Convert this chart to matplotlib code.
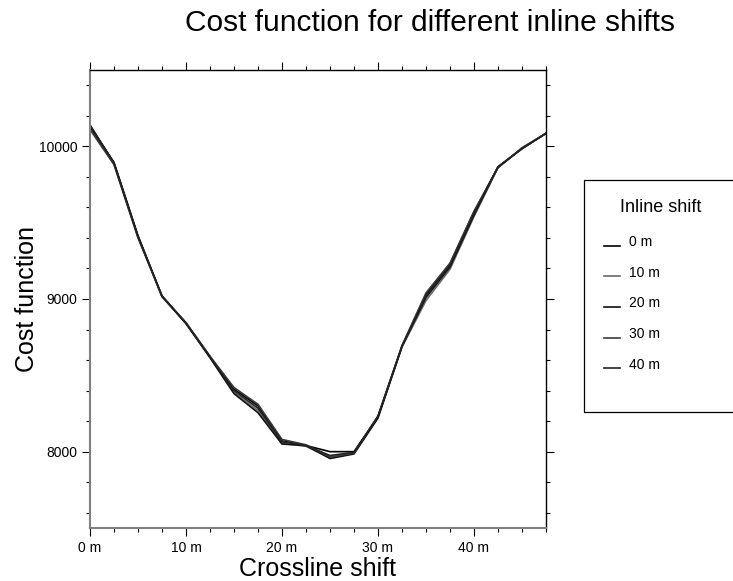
import numpy as np
import matplotlib.pyplot as plt
from matplotlib.patches import Rectangle
from matplotlib.legend_handler import HandlerLine2D

plt.rcParams['font.family'] = ['Liberation Sans', 'DejaVu Sans']

# Desplazamientos en crossline (m)
crossline = [0, 2.5, 5, 7.5, 10, 12.5, 15, 17.5, 20, 22.5,
             25, 27.5, 30, 32.5, 35, 37.5, 40, 42.5, 45, 47.5]

# Funcion de coste para cada desplazamiento inline
cost_0 = [10140, 9890, 9410, 9015, 8840, 8620, 8410, 8300, 8070, 8040,
          8000, 8000, 8230, 8690, 9030, 9230, 9570, 9865, 9985, 10085]
cost_10 = [10120, 9885, 9405, 9015, 8845, 8625, 8390, 8270, 8055, 8035,
           7960, 7990, 8225, 8685, 8990, 9195, 9540, 9860, 9990, 10085]
cost_20 = [10130, 9895, 9415, 9020, 8840, 8615, 8380, 8255, 8050, 8040,
           7955, 7985, 8220, 8690, 9010, 9210, 9550, 9865, 9985, 10085]
cost_30 = [10110, 9880, 9400, 9020, 8845, 8625, 8420, 8310, 8080, 8045,
           7965, 7990, 8235, 8695, 9040, 9235, 9575, 9860, 9990, 10085]
cost_40 = [10135, 9890, 9410, 9020, 8840, 8620, 8400, 8285, 8065, 8040,
           7975, 7995, 8230, 8690, 9020, 9220, 9560, 9865, 9985, 10085]

inline_labels = ['0 m', '10 m', '20 m', '30 m', '40 m']
xtick_values = [0, 10, 20, 30, 40]
xtick_labels = ['0 m', '10 m', '20 m', '30 m', '40 m']
ytick_values = [8000, 9000, 10000]

series = [cost_0, cost_10, cost_20, cost_30, cost_40]
colores = ['#000000', '#6a6a6a', '#111111', '#3a3a3a', '#222222']


class LineaAbajo(HandlerLine2D):
    """Dibuja la linea de la leyenda a la altura de la base del texto."""
    def create_artists(self, legend, orig_handle, xdescent, ydescent,
                       width, height, fontsize, trans):
        arts = super().create_artists(legend, orig_handle, xdescent, ydescent,
                                      width, height, fontsize, trans)
        for a in arts:
            yd = a.get_ydata()
            a.set_ydata([-ydescent + 0.05 * height] * len(yd))
        return arts


W, H = 733, 581
fig = plt.figure(figsize=(W / 100, H / 100), dpi=100)
ax = fig.add_axes([90 / W, 1 - 528 / H, (546 - 90) / W, (528 - 70) / H])

lineas = []
for datos, c, lab in zip(series, colores, inline_labels):
    l, = ax.plot(crossline, datos, color=c, lw=1.2, label=lab)
    lineas.append(l)

ax.set_xlim(0, 47.5)
ax.set_ylim(7500, 10500)
ax.set_xticks(xtick_values)
ax.set_xticklabels(xtick_labels)
ax.set_xticks(np.arange(0, 47.6, 2.5), minor=True)
ax.set_yticks(ytick_values)
ax.set_yticklabels([str(v) for v in ytick_values])
ax.set_yticks(np.arange(7600, 10500, 200), minor=True)

ax.tick_params(which='both', direction='out', top=True, right=True,
               labelsize=10, width=0.8, color='black')
ax.tick_params(which='major', length=6, pad=3)
ax.tick_params(which='minor', length=3)

for lado in ['left', 'bottom']:
    ax.spines[lado].set_color('#808080')
    ax.spines[lado].set_linewidth(1.5)
for lado in ['top', 'right']:
    ax.spines[lado].set_color('black')
    ax.spines[lado].set_linewidth(1.0)

ax.set_xlabel('Crossline shift', fontsize=18, labelpad=2)
ax.set_ylabel('Cost function', fontsize=18, labelpad=0)

fig.text(430 / W, 1 - 23 / H, 'Cost function for different inline shifts',
         fontsize=21.5, ha='center', va='center')

# Caja de la leyenda (se sale por la derecha como en el original)
fig.patches.append(Rectangle((584 / W, 1 - 412 / H), 0.4, (412 - 180) / H,
                             transform=fig.transFigure, fill=False,
                             lw=0.9, edgecolor='black'))
fig.text(620 / W, 1 - 208 / H, 'Inline shift', fontsize=13,
         ha='left', va='center')
leg = fig.legend(handles=lineas, loc='upper left',
                 bbox_to_anchor=(604 / W, 1 - 235 / H), frameon=False,
                 fontsize=10, borderpad=0, borderaxespad=0,
                 handlelength=1.15, handletextpad=0.65, labelspacing=1.2,
                 handler_map={l: LineaAbajo() for l in lineas})

fig.savefig('out.png', dpi=100)
